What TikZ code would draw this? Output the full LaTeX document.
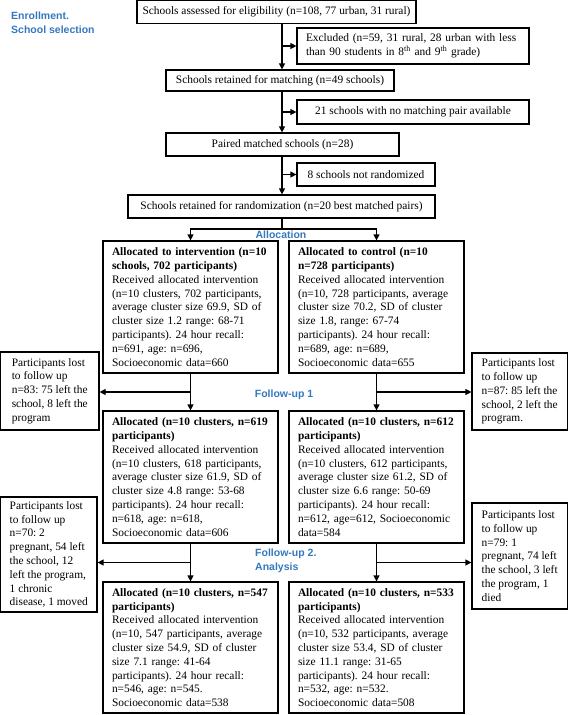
\documentclass[tikz,border=0pt]{standalone}
\usepackage{fontspec}
\setmainfont{Liberation Serif}
\newfontfamily\lblfont{Liberation Sans}
\usetikzlibrary{arrows.meta,calc}
\definecolor{lblblue}{RGB}{52,120,190}
\frenchspacing
\begin{document}
\begin{tikzpicture}[x=1pt,y=-1pt,
  every node/.style={font=\fontsize{11.4}{13.8}\selectfont},
  box/.style={draw, line width=1.2pt},
  cbox/.style={box, align=center, inner sep=0pt},
  tbox/.style={box, align=left, inner xsep=9pt, inner ysep=2pt},
  sbox/.style={box, align=left, inner xsep=2pt, inner ysep=2pt},
  conn/.style={line width=1.2pt},
  arr/.style={conn, -{Triangle[length=6pt,width=6pt]}},
  lbl/.style={font=\lblfont\bfseries\fontsize{10.5}{13.7}\selectfont, text=lblblue, inner sep=0pt}
]
\useasboundingbox (0,0) rectangle (568,715);

% top chain
\node[cbox, minimum width=279pt, minimum height=22.5pt] (b1) at (276.5,11.9)
  {Schools assessed for eligibility (n=108, 77 urban, 31 rural)};
\node[tbox, text width=214pt, minimum width=232pt, minimum height=36pt] (excl) at (413,46)
  {Excluded (n=59, 31 rural, 28 urban with less\\than 90 students in 8\textsuperscript{th} and 9\textsuperscript{th} grade)};
\node[cbox, minimum width=228pt, minimum height=21pt] (retm) at (280,80.5)
  {Schools retained for matching (n=49 schools)};
\node[cbox, minimum width=232pt, minimum height=24pt] (s21) at (413,112)
  {21 schools with no matching pair available};
\node[cbox, minimum width=233pt, minimum height=23pt] (pair) at (282.5,144.5)
  {Paired matched schools (n=28)};
\node[cbox, minimum width=138pt, minimum height=23pt] (s8) at (366,174.5)
  {8 schools not randomized};
\node[cbox, minimum width=307pt, minimum height=23pt] (rand) at (281.5,206.5)
  {Schools retained for randomization (n=20 best matched pairs)};

\coordinate (mainx) at (282,0);
\coordinate (split) at (282,229);

\draw[arr] (b1.south -| mainx) -- (retm.north -| mainx);
\draw[arr] (mainx |- excl.west) -- (excl.west);
\draw[arr] (retm.south -| mainx) -- (pair.north -| mainx);
\draw[arr] (mainx |- s21.west) -- (s21.west);
\draw[arr] (pair.south -| mainx) -- (rand.north -| mainx);
\draw[arr] (mainx |- s8.west) -- (s8.west);

% allocation
\node[tbox, text width=157pt, minimum width=175pt, minimum height=132pt] (I1) at (190.5,307)
  {\textbf{Allocated to intervention (n=10}\\\textbf{schools, 702 participants)}\\Received allocated intervention\\(n=10 clusters, 702 participants,\\average cluster size 69.9, SD of\\cluster size 1.2 range: 68-71\\participants). 24 hour recall:\\n=691, age: n=696,\\Socioeconomic data=660};
\node[tbox, text width=157pt, minimum width=175pt, minimum height=132pt] (C1) at (376.5,307)
  {\textbf{Allocated to control (n=10}\\\textbf{n=728 participants)}\\Received allocated intervention\\(n=10, 728 participants, average\\cluster size 70.2, SD of cluster\\size 1.8, range: 67-74\\participants). 24 hour recall:\\n=689, age: n=689,\\Socioeconomic data=655};

\draw[conn] (rand.south -| split) -- (split);
\draw[arr] (split) -| (I1.north);
\draw[arr] (split) -| (C1.north);

% follow-up 1
\node[sbox, minimum width=98.4pt, minimum height=78pt] (L1) at (49.8,391)
  {Participants lost\\to follow up\\n=83: 75 left the\\school, 8 left the\\program};
\node[sbox, minimum width=95.4pt, minimum height=77pt] (R1) at (519.7,391.5)
  {Participants lost\\to follow up\\n=87: 85 left the\\school, 2 left the\\program.};
\node[tbox, text width=157pt, minimum width=175pt, minimum height=132pt] (I2) at (190.5,477)
  {\textbf{Allocated (n=10 clusters, n=619}\\\textbf{participants)}\\Received allocated intervention\\(n=10 clusters, 618 participants,\\average cluster size 61.9, SD of\\cluster size 4.8 range: 53-68\\participants). 24 hour recall:\\n=618, age: n=618,\\Socioeconomic data=606};
\node[tbox, text width=157pt, minimum width=175pt, minimum height=132pt] (C2) at (376.5,477)
  {\textbf{Allocated (n=10 clusters, n=612}\\\textbf{participants)}\\Received allocated intervention\\(n=10 clusters, 612 participants,\\average cluster size 61.2, SD of\\cluster size 6.6 range: 50-69\\participants). 24 hour recall:\\n=612, age=612, Socioeconomic\\data=584};

\coordinate (j1) at ($(I1.south)!0.5!(I2.north)$);
\coordinate (k1) at ($(C1.south)!0.5!(C2.north)$);
\draw[arr] (I1.south) -- (I2.north);
\draw[arr] (C1.south) -- (C2.north);
\draw[arr] (j1) -- (j1 -| L1.east);
\draw[arr] (k1) -- (k1 -| R1.west);

% follow-up 2
\node[sbox, minimum width=96.4pt, minimum height=115pt] (L2) at (48.8,554.5)
  {Participants lost\\to follow up\\n=70: 2\\pregnant, 54 left\\the school, 12\\left the program,\\1 chronic\\disease, 1 moved};
\node[sbox, minimum width=95.4pt, minimum height=106pt] (R2) at (519.7,556)
  {Participants lost\\to follow up\\n=79: 1\\pregnant, 74 left\\the school, 3 left\\the program, 1\\died};
\node[tbox, text width=157pt, minimum width=175pt, minimum height=131pt] (I3) at (190.5,647.5)
  {\textbf{Allocated (n=10 clusters, n=547}\\\textbf{participants)}\\Received allocated intervention\\(n=10, 547 participants, average\\cluster size 54.9, SD of cluster\\size 7.1 range: 41-64\\participants). 24 hour recall:\\n=546, age: n=545.\\Socioeconomic data=538};
\node[tbox, text width=157pt, minimum width=175pt, minimum height=131pt] (C3) at (376.5,647.5)
  {\textbf{Allocated (n=10 clusters, n=533}\\\textbf{participants)}\\Received allocated intervention\\(n=10, 532 participants, average\\cluster size 53.4, SD of cluster\\size 11.1 range: 31-65\\participants). 24 hour recall:\\n=532, age: n=532.\\Socioeconomic data=508};

\coordinate (j2) at ($(I2.south)!0.5!(I3.north)$);
\coordinate (k2) at ($(C2.south)!0.5!(C3.north)$);
\draw[arr] (I2.south) -- (I3.north);
\draw[arr] (C2.south) -- (C3.north);
\draw[arr] (j2) -- (j2 -| L2.east);
\draw[arr] (k2) -- (k2 -| R2.west);

% blue stage labels
\node[lbl, anchor=west, align=left] (enr) at (11,22.5) {Enrollment.\\School selection};
\node[lbl] (alloc) at (281,235) {Allocation};
\node[lbl] (fu1) at (284,395) {Follow-up 1};
\node[lbl, anchor=west, align=left] (fu2) at (255,561) {Follow-up 2.\\Analysis};
\end{tikzpicture}
\end{document}
